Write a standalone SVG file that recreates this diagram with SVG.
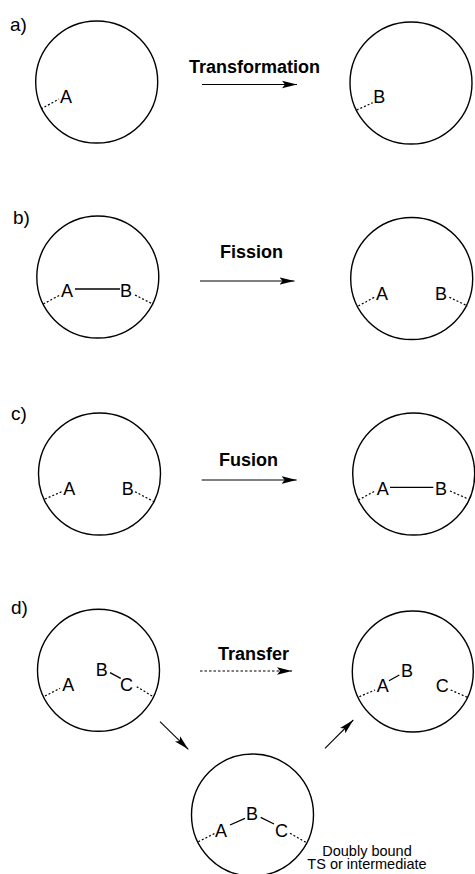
<svg xmlns="http://www.w3.org/2000/svg" width="475" height="874" viewBox="0 0 475 874">
  <style>
    .ring { fill: none; stroke: #000; stroke-width: 1.4; }
    .bond { fill: none; stroke: #000; stroke-width: 1.3; }
    .tether { fill: none; stroke: #000; stroke-width: 1.2; stroke-dasharray: 2 2; }
    .atom { font-family: "Liberation Sans", Arial, sans-serif; font-size: 18px; fill: #000; }
    .tag { font-family: "Liberation Sans", Arial, sans-serif; font-size: 19px; fill: #000; }
    .step { font-family: "Liberation Sans", Arial, sans-serif; font-size: 18px; font-weight: bold; fill: #000; }
    .note { font-family: "Liberation Sans", Arial, sans-serif; font-size: 14.5px; fill: #000; text-anchor: middle; }
    .arrow { fill: none; stroke: #000; stroke-width: 1.1; marker-end: url(#head); }
    .arrow.dotted { stroke-dasharray: 2.5 2; }
  </style>
  <defs>
    <marker id="head" viewBox="0 0 16 9" refX="15" refY="4.5" markerWidth="16" markerHeight="9" markerUnits="userSpaceOnUse" orient="auto">
      <path d="M15,4.5 L0,0.8 L3,4.5 L0,8.2 Z" fill="#000"/>
    </marker>
  </defs>

  <!-- panel labels -->
  <g id="labels">
    <text class="tag" x="10" y="31">a)</text>
    <text class="tag" x="13" y="224">b)</text>
    <text class="tag" x="11" y="420">c)</text>
    <text class="tag" x="11" y="614">d)</text>
  </g>

  <!-- a) transformation -->
  <g id="a-start">
    <circle class="ring" cx="96.7" cy="82" r="61"/>
    <line class="tether" x1="41" y1="109" x2="59" y2="99"/>
    <text class="atom" x="60" y="103">A</text>
  </g>
  <g id="a-end">
    <circle class="ring" cx="411" cy="83" r="61"/>
    <line class="tether" x1="356.7" y1="110" x2="372.7" y2="102.7"/>
    <text class="atom" x="373.3" y="103">B</text>
  </g>

  <!-- b) fission -->
  <g id="b-start">
    <circle class="ring" cx="97.8" cy="277" r="61"/>
    <line class="tether" x1="43.3" y1="304" x2="60" y2="295"/>
    <text class="atom" x="61" y="297">A</text>
    <line class="bond" x1="75" y1="289" x2="120" y2="289"/>
    <text class="atom" x="120" y="297">B</text>
    <line class="tether" x1="135" y1="295" x2="153.3" y2="304.3"/>
  </g>
  <g id="b-end">
    <circle class="ring" cx="411.7" cy="278.5" r="61"/>
    <line class="tether" x1="358.3" y1="306" x2="374.3" y2="297.3"/>
    <text class="atom" x="376" y="300">A</text>
    <text class="atom" x="435" y="300">B</text>
    <line class="tether" x1="449.3" y1="297.3" x2="467.7" y2="306"/>
  </g>

  <!-- c) fusion -->
  <g id="c-start">
    <circle class="ring" cx="99.5" cy="474" r="61"/>
    <line class="tether" x1="45" y1="499" x2="61.7" y2="491.7"/>
    <text class="atom" x="63.3" y="495">A</text>
    <text class="atom" x="121.7" y="495">B</text>
    <line class="tether" x1="135" y1="491.7" x2="154" y2="501.7"/>
  </g>
  <g id="c-end">
    <circle class="ring" cx="413.7" cy="474" r="61"/>
    <line class="tether" x1="358.3" y1="500" x2="375" y2="491"/>
    <text class="atom" x="376.7" y="495">A</text>
    <line class="bond" x1="390" y1="487.3" x2="433.3" y2="487.3"/>
    <text class="atom" x="435" y="495">B</text>
    <line class="tether" x1="450" y1="491" x2="466.7" y2="498.3"/>
  </g>

  <!-- d) transfer -->
  <g id="d-start">
    <circle class="ring" cx="98.5" cy="670.3" r="61"/>
    <line class="tether" x1="45" y1="696" x2="60" y2="688.3"/>
    <text class="atom" x="62.3" y="691">A</text>
    <text class="atom" x="95.7" y="676">B</text>
    <line class="bond" x1="110" y1="672.7" x2="120.7" y2="678.3"/>
    <text class="atom" x="120" y="691">C</text>
    <line class="tether" x1="136.7" y1="686.7" x2="153.3" y2="696.7"/>
  </g>
  <g id="d-end">
    <circle class="ring" cx="412.8" cy="671.5" r="60.5"/>
    <line class="tether" x1="359.3" y1="696.7" x2="375" y2="690"/>
    <text class="atom" x="376.7" y="691.7">A</text>
    <line class="bond" x1="389" y1="680.7" x2="399.3" y2="675"/>
    <text class="atom" x="401" y="677">B</text>
    <text class="atom" x="435.7" y="691.7">C</text>
    <line class="tether" x1="450.7" y1="690" x2="468.3" y2="697.7"/>
  </g>
  <g id="d-intermediate">
    <circle class="ring" cx="252.5" cy="815" r="61"/>
    <line class="tether" x1="198.3" y1="841.7" x2="215" y2="833.3"/>
    <text class="atom" x="215" y="836.7">A</text>
    <line class="bond" x1="230" y1="825" x2="245" y2="818.3"/>
    <text class="atom" x="246" y="820">B</text>
    <line class="bond" x1="260.7" y1="817.3" x2="274" y2="824"/>
    <text class="atom" x="275" y="836.7">C</text>
    <line class="tether" x1="290" y1="833.3" x2="306.7" y2="842.7"/>
    <text class="note" x="367" y="855.5">Doubly bound</text>
    <text class="note" x="367" y="869">TS or intermediate</text>
  </g>

  <!-- step arrows and their captions -->
  <g id="connectors">
    <text class="step" x="189" y="72.5">Transformation</text>
    <line class="arrow" x1="202" y1="84.5" x2="297" y2="84.5"/>

    <text class="step" x="220" y="258">Fission</text>
    <line class="arrow" x1="200" y1="281" x2="294.5" y2="281"/>

    <text class="step" x="219" y="466">Fusion</text>
    <line class="arrow" x1="201.7" y1="480" x2="296.7" y2="480"/>

    <text class="step" x="218" y="660">Transfer</text>
    <line class="arrow dotted" x1="200" y1="671" x2="292" y2="671"/>

    <line class="arrow" x1="160" y1="721.7" x2="188.3" y2="749.3"/>
    <line class="arrow" x1="325" y1="748.3" x2="353.3" y2="720"/>
  </g>
</svg>
